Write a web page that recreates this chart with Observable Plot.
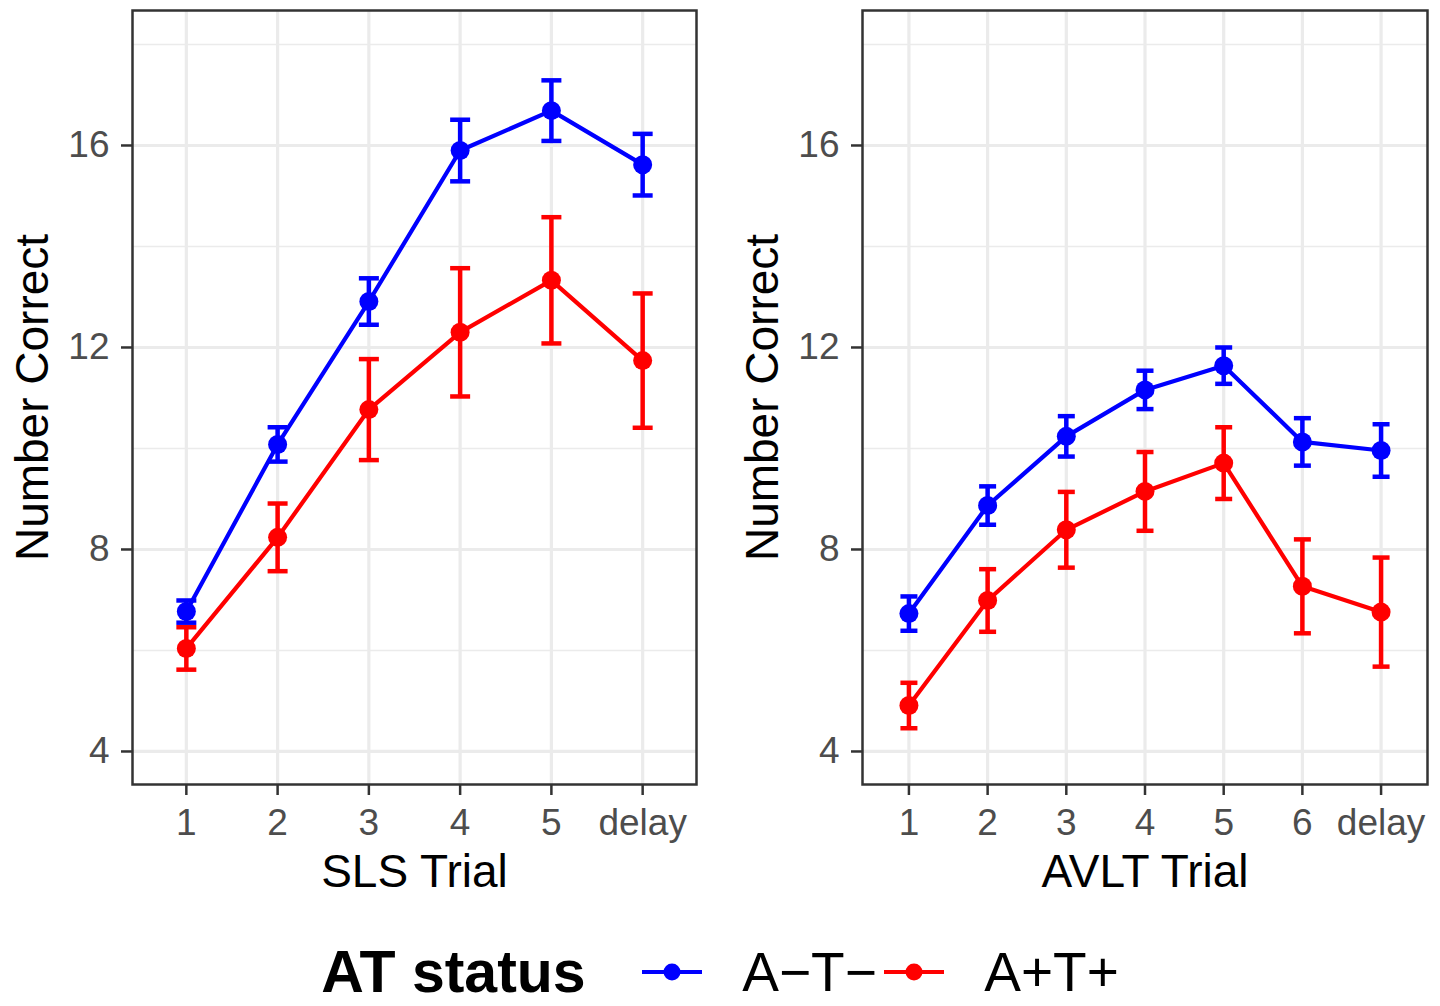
<!DOCTYPE html>
<html><head><meta charset="utf-8">
<script src="https://cdn.jsdelivr.net/npm/d3@7"></script>
<script src="https://cdn.jsdelivr.net/npm/@observablehq/plot@0.6"></script>
<style>
html,body{margin:0;padding:0;background:#fff;font-family:"Liberation Sans",Arial,sans-serif;}
#row{display:flex;flex-direction:row;width:1440px;}
#row svg{display:block;}
#legend{position:absolute;left:0;top:944px;width:1440px;height:56px;display:flex;align-items:center;justify-content:center;}
#legend .lt{font-weight:bold;font-size:59px;line-height:0.85;display:inline-block;width:321px;white-space:nowrap;}
#legend .ll{font-size:55px;line-height:0.85;white-space:nowrap;}
#legend svg{display:block;}
</style></head><body>
<div id="row"></div>
<div id="legend"></div>
<script>
// ---- data ----
const groups = ["A−T−", "A+T+"];
const groupColors = ["#0000ff", "#ff0000"];
const legendTitle = "AT status";
const yLabel = "Number Correct";
const majorTicks = [4, 8, 12, 16];
const minorTicks = [6, 10, 14, 18];

const slsTrials = ["1", "2", "3", "4", "5", "delay"];
const slsNegMean = [6.77, 10.08, 12.91, 15.90, 16.69, 15.62];
const slsNegSE   = [0.22, 0.34, 0.46, 0.61, 0.60, 0.61];
const slsPosMean = [6.04, 8.24, 10.77, 12.30, 13.33, 11.74];
const slsPosSE   = [0.42, 0.67, 1.00, 1.27, 1.25, 1.33];

const avltTrials = ["1", "2", "3", "4", "5", "6", "delay"];
const avltNegMean = [6.73, 8.87, 10.24, 11.16, 11.64, 10.13, 9.96];
const avltNegSE   = [0.34, 0.38, 0.40, 0.38, 0.36, 0.47, 0.52];
const avltPosMean = [4.91, 6.99, 8.39, 9.15, 9.71, 7.27, 6.76];
const avltPosSE   = [0.45, 0.62, 0.75, 0.78, 0.71, 0.93, 1.08];

function makeRows(trials, means, ses) {
  const rows = [];
  groups.forEach((g, gi) => trials.forEach((t, i) => rows.push({trial: t, group: g, mean: means[gi][i], se: ses[gi][i]})));
  return rows;
}

const FONT = "Liberation Sans, Arial, sans-serif";

// horizontal-line symbol for error bar caps (half-width = r)
const capSymbol = {
  draw(context, size) {
    const w = Math.sqrt(size / Math.PI);
    context.moveTo(-w, 0);
    context.lineTo(w, 0);
  }
};

function panel({trials, rows, xLabel, width, marginRight, capHalf}) {
  return Plot.plot({
    width, height: 900,
    marginLeft: 132, marginRight, marginTop: 10, marginBottom: 116,
    style: {fontFamily: FONT, background: "#fff", overflow: "visible"},
    x: {type: "point", domain: trials, padding: 0.59, round: false},
    y: {domain: [3.346, 18.673]},
    color: {domain: groups, range: groupColors},
    marks: [
      Plot.gridY(minorTicks, {stroke: "#ebebeb", strokeOpacity: 1, strokeWidth: 1.6}),
      Plot.gridY(majorTicks, {stroke: "#ebebeb", strokeOpacity: 1, strokeWidth: 3.2}),
      Plot.gridX(trials, {stroke: "#ebebeb", strokeOpacity: 1, strokeWidth: 3.2}),
      Plot.line(rows, {x: "trial", y: "mean", stroke: "group", z: "group", strokeWidth: 4.2}),
      Plot.ruleX(rows, {x: "trial", y1: d => d.mean - d.se, y2: d => d.mean + d.se, stroke: "group", strokeWidth: 4.5}),
      Plot.dot(rows, {x: "trial", y: d => d.mean + d.se, symbol: capSymbol, r: capHalf, fill: "none", stroke: "group", strokeWidth: 4.5}),
      Plot.dot(rows, {x: "trial", y: d => d.mean - d.se, symbol: capSymbol, r: capHalf, fill: "none", stroke: "group", strokeWidth: 4.5}),
      Plot.dot(rows, {x: "trial", y: "mean", fill: "group", r: 9.5}),
      Plot.axisY(majorTicks, {tickSize: 11, tickPadding: 12, fontSize: 37, color: "#4d4d4d", stroke: "#333", strokeWidth: 2.5, label: null, tickFormat: d => String(d)}),
      Plot.axisX(trials, {tickSize: 11, tickPadding: 13, fontSize: 37, color: "#4d4d4d", stroke: "#333", strokeWidth: 2.5, label: null}),
      Plot.text([yLabel], {frameAnchor: "left", rotate: -90, dx: -99, lineAnchor: "middle", textAnchor: "middle", fontSize: 46, fill: "#000"}),
      Plot.text([xLabel], {frameAnchor: "bottom", dy: 88, lineAnchor: "middle", textAnchor: "middle", fontSize: 46, fill: "#000"}),
      Plot.frame({stroke: "#333", strokeWidth: 2.5})
    ]
  });
}

const row = document.getElementById("row");
row.append(panel({
  trials: slsTrials,
  rows: makeRows(slsTrials, [slsNegMean, slsPosMean], [slsNegSE, slsPosSE]),
  xLabel: "SLS Trial", width: 730, marginRight: 34, capHalf: 10
}));
row.append(panel({
  trials: avltTrials,
  rows: makeRows(avltTrials, [avltNegMean, avltPosMean], [avltNegSE, avltPosSE]),
  xLabel: "AVLT Trial", width: 710, marginRight: 13, capHalf: 8.5
}));

// ---- legend ----
const legend = d3.select("#legend");
legend.append("span").attr("class", "lt").text(legendTitle);
groups.forEach((g, i) => {
  const key = legend.append("svg").attr("width", 60).attr("height", 24);
  key.append("line").attr("x1", 0).attr("x2", 60).attr("y1", 12).attr("y2", 12)
    .attr("stroke", groupColors[i]).attr("stroke-width", 4);
  key.append("circle").attr("cx", 30).attr("cy", 12).attr("r", 8.5).attr("fill", groupColors[i]);
  const lab = legend.append("span").attr("class", "ll").text(g).style("margin-left", "40px");
  if (i === 0) lab.style("width", "142px").style("display", "inline-block");
});
</script>
</body></html>
